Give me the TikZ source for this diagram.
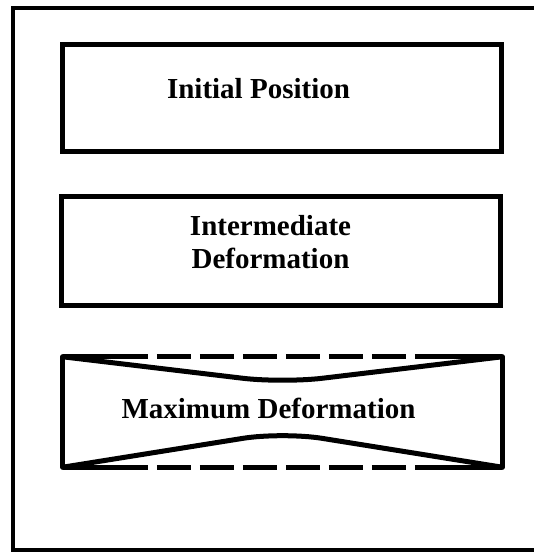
\documentclass[tikz,border=0pt]{standalone}
\usepackage{fontspec}
\setmainfont{Liberation Serif}
\begin{document}
\begin{tikzpicture}[
    x=1pt, y=1pt,
    font=\bfseries\fontsize{29}{33}\selectfont,
    stage/.style={rectangle, draw=black, line width=5pt, minimum width=439pt,
                  minimum height=#1, inner sep=0pt},
    lbl/.style={inner sep=0pt, align=center},
    side/.style={line width=5pt, line cap=round},
    halfdash/.style={line width=5pt, dash pattern=on 85pt off 9pt on 34pt off 9pt on 34pt off 9pt
                     on 34pt off 9pt on 34pt off 9pt on 34pt off 9pt on 34pt off 9pt on 87pt},
    sag/.style={line width=5pt, line cap=round, rounded corners=40pt},
]
% --- page and outer frame ---
\useasboundingbox (0,0) rectangle (534,552);
\clip (0,0) rectangle (534,552);
\node[draw, line width=4pt, minimum width=540pt, minimum height=542pt, inner sep=0pt] (frame) at (283,273) {};

% --- stages ---
\node[stage=107pt] (initbox) at (281.5,453.5) {};
\node[stage=109pt] (midbox)  at (281,301) {};
\node[minimum width=439pt, minimum height=110pt, inner sep=0pt] (maxbox) at (282.5,140) {};

% --- squeezed box ---
\coordinate (dip)  at (282.5,169);
\coordinate (rise) at (282.5,120);
\draw[side] (maxbox.north west) -- (maxbox.south west);
\draw[side] (maxbox.north east) -- (maxbox.south east);
\draw[halfdash] (maxbox.north west) -- (maxbox.north east);
\draw[halfdash] (maxbox.south west) -- (maxbox.south east);
\draw[sag] (maxbox.north west) -- (dip) -- (maxbox.north east);
\draw[sag] (maxbox.south west) -- (rise) -- (maxbox.south east);

% --- labels ---
\node[lbl, anchor=base] (inittxt) at (258.5,453) {Initial Position};
\node[lbl] (midtxt) at (270.5,309.5) {Intermediate\\Deformation};
\node[lbl, anchor=base] (maxtxt) at (268.5,133) {Maximum Deformation};
\end{tikzpicture}
\end{document}
